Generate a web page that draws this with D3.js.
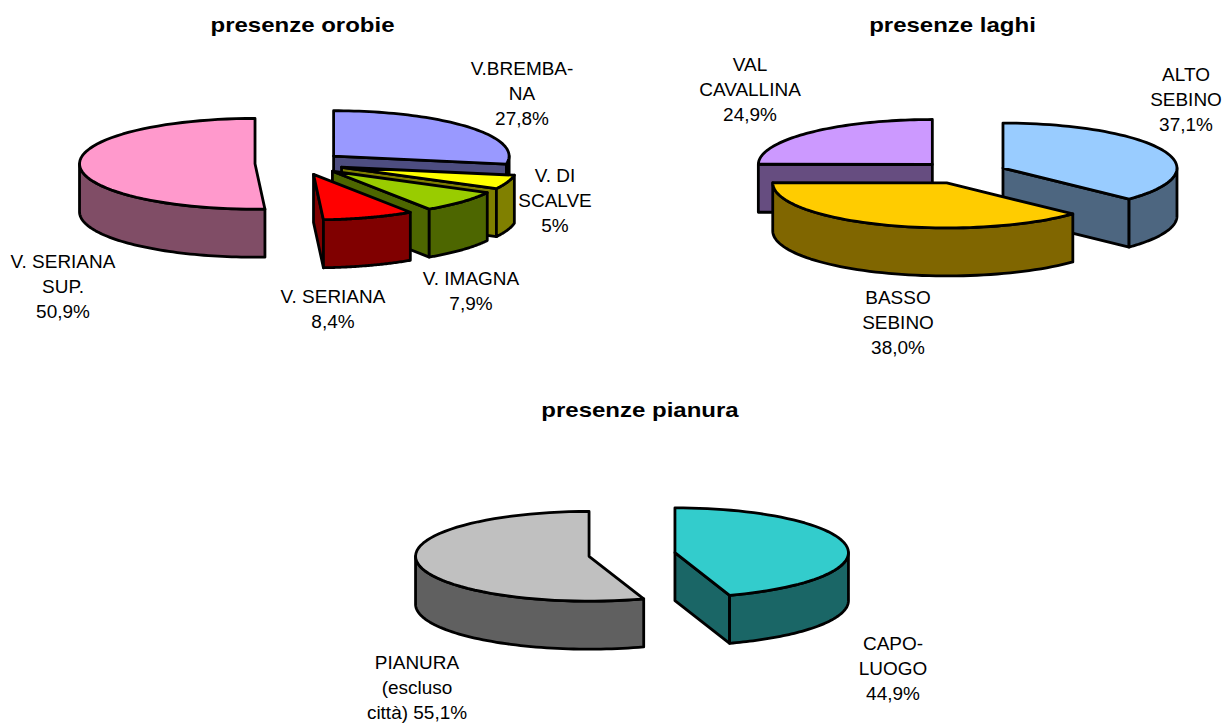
<!DOCTYPE html>
<html><head><meta charset="utf-8">
<script src="https://cdn.jsdelivr.net/npm/d3@7"></script>
<style>html,body{margin:0;padding:0;background:#fff}svg{display:block}
text{font-family:"Liberation Sans",Arial,sans-serif;fill:#000}
.lab{font-size:17.5px}.title{font-size:21px;font-weight:bold}</style>
</head><body><svg id="c" width="1222" height="724"></svg>
<script>
// ---- data ----
const orobieValues = [27.8, 5, 7.9, 8.4, 50.9];
const orobieColors = ["#9999FF", "#FFFF00", "#99CC00", "#FF0000", "#FF99CC"];
const orobieOrder  = [0, 4, 1, 2, 3];
const orobieLabels = [
  ["V.BREMBA-", "NA", "27,8%"], ["V. DI", "SCALVE", "5%"], ["V. IMAGNA", "7,9%"],
  ["V. SERIANA", "8,4%"], ["V. SERIANA", "SUP.", "50,9%"]];
const orobieLabelPos = [[522, 69], [555, 176], [471, 279], [333, 297], [63, 262]];

const laghiValues = [37.1, 38.0, 24.9];
const laghiColors = ["#99CCFF", "#FFCC00", "#CC99FF"];
const laghiOrder  = [2, 0, 1];
const laghiLabels = [["ALTO", "SEBINO", "37,1%"], ["BASSO", "SEBINO", "38,0%"], ["VAL", "CAVALLINA", "24,9%"]];
const laghiLabelPos = [[1186, 75], [898, 298], [750, 65]];

const pianuraValues = [44.9, 55.1];
const pianuraColors = ["#33CCCC", "#C0C0C0"];
const pianuraOrder  = [1, 0];
const pianuraLabels = [["CAPO-", "LUOGO", "44,9%"], ["PIANURA", "(escluso", "città) 55,1%"]];
const pianuraLabelPos = [[893, 644], [417, 663]];

const charts = [
  {title: "presenze orobie", tx: 302.5, ty: 25, cx: 299.5, cy: 163.5, explode: 44.5, rx: 175.5, values: orobieValues, colors: orobieColors, order: orobieOrder, labels: orobieLabels, pos: orobieLabelPos},
  {title: "presenze laghi", tx: 952.5, ty: 25, cx: 963, cy: 172.5, explode: 43.5, rx: 174, values: laghiValues, colors: laghiColors, order: laghiOrder, labels: laghiLabels, pos: laghiLabelPos},
  {title: "presenze pianura", tx: 640, ty: 410, cx: 632, cy: 554.5, explode: 43.5, rx: 173.5, values: pianuraValues, colors: pianuraColors, order: pianuraOrder, labels: pianuraLabels, pos: pianuraLabelPos}
];

const RY = 45, DEPTH = 48, LH = 24.8;
const LABEL_STRETCH = 1.085, TITLE_STRETCH = 1.143;
const svg = d3.select("#c");
const line = d3.line();
const pie = d3.pie().sort(null);

charts.forEach(ch => {
  const g = svg.append("g");
  const arcs = pie(ch.values);
  const RX = ch.rx;
  const project = (a, r, ox, oy, dz = 0) => [ox + r * Math.sin(a), oy - r * Math.cos(a) * RY / 174 + dz];
  ch.order.forEach(i => {
    const d = arcs[i], mid = (d.startAngle + d.endAngle) / 2;
    const [ox, oy] = project(mid, ch.explode, ch.cx, ch.cy);
    const sample = (a0, a1) => d3.range(0, 61).map(t => a0 + (a1 - a0) * t / 60);
    const rim = (a0, a1, dz) => sample(a0, a1).map(a => project(a, RX, ox, oy, dz));
    const apex = [ox, oy], apexLow = [ox, oy + DEPTH];
    const side = d3.rgb(ch.colors[i]);
    const dark = d3.rgb(side.r * .5, side.g * .5, side.b * .5).formatHex();
    const style = s => s.attr("stroke", "#000").attr("stroke-width", 2.8).attr("stroke-linejoin", "round");
    [d.startAngle, d.endAngle].forEach((a, k) => {
      const vis = k === 0 ? Math.sin(a) < -1e-6 : Math.sin(a) > 1e-6;
      if (!vis) return;
      const p = project(a, RX, ox, oy), q = project(a, RX, ox, oy, DEPTH);
      style(g.append("path").attr("d", line([apex, p, q, apexLow]) + "Z").attr("fill", dark));
    });
    const a0 = Math.max(d.startAngle, Math.PI / 2), a1 = Math.min(d.endAngle, 3 * Math.PI / 2);
    if (a1 > a0) {
      const pts = rim(a0, a1, 0).concat(rim(a0, a1, DEPTH).reverse());
      style(g.append("path").attr("d", line(pts) + "Z").attr("fill", dark));
    }
    const top = [apex].concat(rim(d.startAngle, d.endAngle, 0));
    style(g.append("path").attr("d", line(top) + "Z").attr("fill", ch.colors[i]));
  });
  g.append("text").attr("class", "title").attr("text-anchor", "middle")
    .attr("transform", `translate(${ch.tx},${ch.ty + 7}) scale(${TITLE_STRETCH},1)`).text(ch.title);
  ch.labels.forEach((lines, i) => {
    lines.forEach((s, j) => g.append("text").attr("class", "lab").attr("text-anchor", "middle")
      .attr("transform", `translate(${ch.pos[i][0]},${ch.pos[i][1] + 6 + j * LH}) scale(${LABEL_STRETCH},1)`).text(s));
  });
});
</script></body></html>
